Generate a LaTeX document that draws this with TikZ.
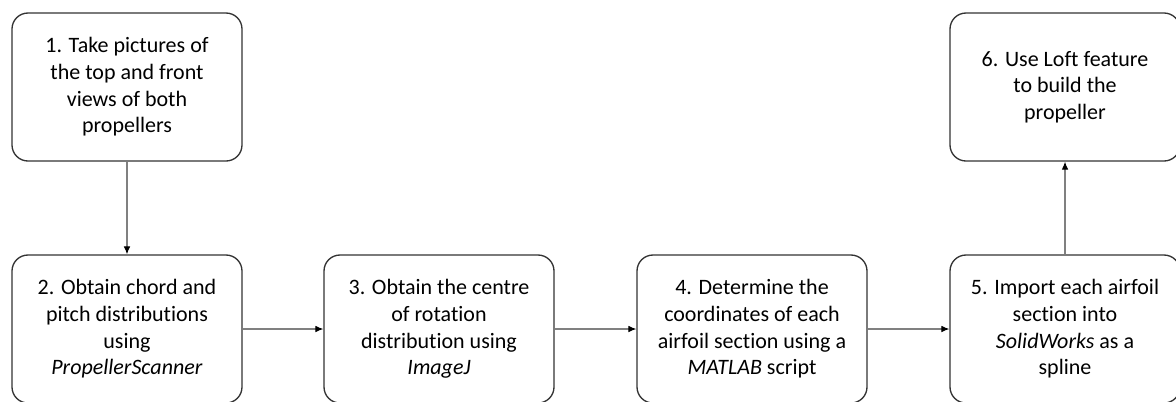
\documentclass[tikz,border=0pt]{standalone}
\usepackage{fontspec}
\setmainfont[Ligatures={NoCommon}]{Carlito}
\usetikzlibrary{arrows.meta}

\begin{document}
\begin{tikzpicture}[x=0.75pt,y=-0.75pt,
    stepbox/.style={draw=black!80,line width=1pt,rounded corners=12pt,
      minimum width=172.5pt,minimum height=111pt,align=center,
      font=\fontsize{16.5}{20}\selectfont},
    flow/.style={draw=black!50,line width=0.8pt,-{Latex[length=6pt,width=5pt,color=black]}}]
          \clip (0,0) rectangle (1176,401);

          \node[stepbox] (s1) at (127,87) {1. Take pictures of\\the top and front\\views of both\\propellers};
          \node[stepbox] (s2) at (127,329) {2. Obtain chord and\\pitch distributions\\using\\\textit{PropellerScanner}};
          \node[stepbox] (s3) at (439,329) {3. Obtain the centre\\of rotation\\distribution using\\\textit{ImageJ}};
          \node[stepbox] (s4) at (752,329) {4. Determine the\\coordinates of each\\airfoil section using a\\\textit{MATLAB} script};
          \node[stepbox] (s5) at (1065,329) {5. Import each airfoil\\section into\\\textit{SolidWorks} as a\\spline};
          \node[stepbox] (s6) at (1065,87) {6. Use Loft feature\\to build the\\propeller};

          % Arrows
          \draw[flow] (s1) -- (s2);
          \draw[flow] (s2) -- (s3);
          \draw[flow] (s3) -- (s4);
          \draw[flow] (s4) -- (s5);
          \draw[flow] (s5) -- (s6);
        \end{tikzpicture}
\end{document}
